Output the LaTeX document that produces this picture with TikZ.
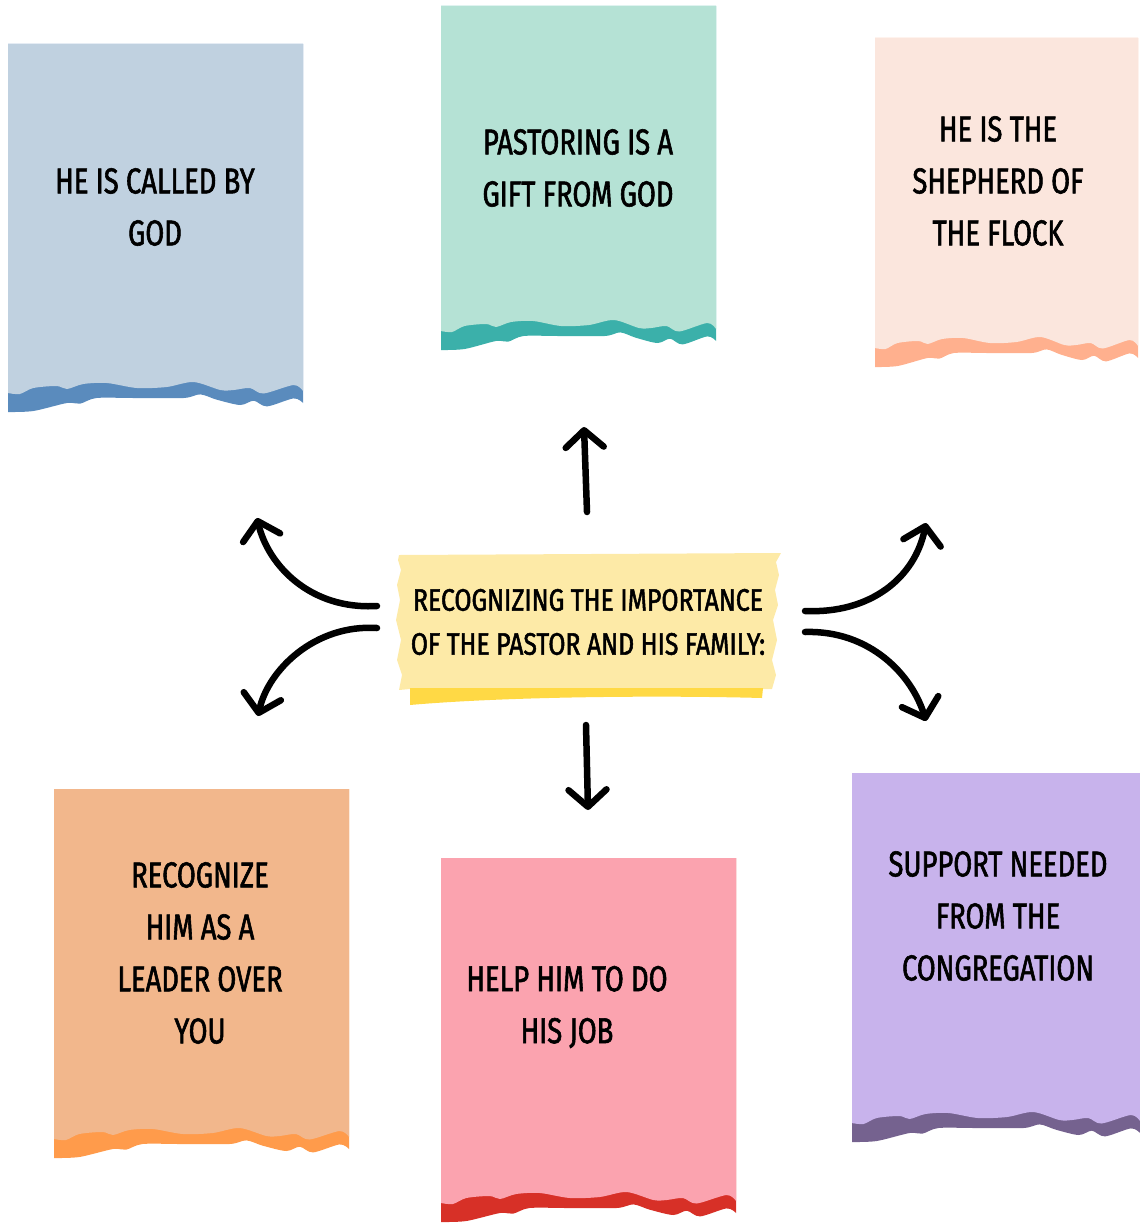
\documentclass[tikz,border=0pt]{standalone}
\usepackage{fontspec}
\newfontfamily\handfont{Fira Sans}[FakeStretch=0.76,FakeBold=1.6]
\newfontfamily\handfontc{Fira Sans}[FakeStretch=0.8,FakeBold=1.6]
\usetikzlibrary{arrows.meta}
\definecolor{blueL}{HTML}{C0D1E0}\definecolor{blueD}{HTML}{5A8BBD}
\definecolor{tealL}{HTML}{B5E2D5}\definecolor{tealD}{HTML}{3BB0AA}
\definecolor{peachL}{HTML}{FBE6DD}\definecolor{peachD}{HTML}{FFB08E}
\definecolor{oranL}{HTML}{F2B78C}\definecolor{oranD}{HTML}{FF9B4B}
\definecolor{pinkL}{HTML}{FBA3AF}\definecolor{pinkD}{HTML}{D73027}
\definecolor{purpL}{HTML}{C8B3EC}\definecolor{purpD}{HTML}{75628F}
\definecolor{yelL}{HTML}{FDEAA7}\definecolor{yelD}{HTML}{FFD945}
\newcommand{\cardbox}[6]{%
  \pgfmathsetmacro{\cw}{#3-#1}
  \fill[#6] (#1,#2) -- (#3,#2) -- plot[smooth] coordinates {
    ({#1+1*\cw},{#4-9}) ({#1+0.968*\cw},{#4-13.6}) ({#1+0.878*\cw},{#4-5.6})
    ({#1+0.833*\cw},{#4-11.3}) ({#1+0.787*\cw},{#4-7}) ({#1+0.708*\cw},{#4-12.3})
    ({#1+0.652*\cw},{#4-17.6}) ({#1+0.595*\cw},{#4-14}) ({#1+0.425*\cw},{#4-14})
    ({#1+0.3*\cw},{#4-14}) ({#1+0.244*\cw},{#4-8.3}) ({#1+0.2*\cw},{#4-9})
    ({#1+0.086*\cw},{#4-1}) ({#1},{#4})} -- cycle;
  \fill[#5] (#1,#2) -- (#3,#2) -- plot[smooth] coordinates {
    ({#1+1*\cw},{#4-21}) ({#1+0.968*\cw},{#4-27}) ({#1+0.866*\cw},{#4-18.5})
    ({#1+0.82*\cw},{#4-24}) ({#1+0.765*\cw},{#4-22}) ({#1+0.72*\cw},{#4-22})
    ({#1+0.629*\cw},{#4-30}) ({#1+0.538*\cw},{#4-25}) ({#1+0.437*\cw},{#4-24})
    ({#1+0.335*\cw},{#4-29}) ({#1+0.255*\cw},{#4-28}) ({#1+0.2*\cw},{#4-23})
    ({#1+0.165*\cw},{#4-26}) ({#1+0.086*\cw},{#4-24}) ({#1+0.04*\cw},{#4-18})
    ({#1},{#4-19})} -- cycle;
}
\tikzset{
  cardtext/.style={align=center, inner sep=0pt, font=\handfont\fontsize{36}{52}\selectfont},
  centertext/.style={align=center, inner sep=0pt, font=\handfontc\fontsize{31}{44}\selectfont},
  handarrow/.style={line width=6.5pt, line cap=round, -{Straight Barb[length=17pt,width=38pt,round]}},
}
\begin{document}
\begin{tikzpicture}[x=1pt,y=-1pt]
\useasboundingbox (0,0) rectangle (1140,1223);
% cards
\cardbox{8}{44}{303}{412}{blueL}{blueD}
\cardbox{441}{6}{716}{350}{tealL}{tealD}
\cardbox{875}{38}{1138}{367}{peachL}{peachD}
\cardbox{54}{789}{349}{1158}{oranL}{oranD}
\cardbox{441}{858}{736}{1222}{pinkL}{pinkD}
\cardbox{852}{773}{1140}{1142}{purpL}{purpD}
\node[cardtext] (c1) at (155,207) {HE IS CALLED BY\\GOD};
\node[cardtext] (c2) at (578,168) {PASTORING IS A\\GIFT FROM GOD};
\node[cardtext] (c3) at (998,181) {HE IS THE\\SHEPHERD OF\\THE FLOCK};
\node[cardtext] (c4) at (200,953) {RECOGNIZE\\HIM AS A\\LEADER OVER\\YOU};
\node[cardtext] (c5) at (567,1007) {HELP HIM TO DO\\HIS JOB};
\node[cardtext] (c6) at (998,916) {SUPPORT NEEDED\\FROM THE\\CONGREGATION};
% center tape
\fill[yelL] (399,555) -- (781,553) -- (776,562) -- (779,575) -- (775,590) -- (778,605)
  -- (773,620) -- (777,640) -- (772,660) -- (776,675) -- (772,689) -- (410,689)
  -- (399,690) -- (402,675) -- (397,660) -- (401,640) -- (396,620) -- (400,600)
  -- (397,585) -- (401,570) -- (398,560) -- cycle;
\fill[yelD] (410,688) -- (763,688) -- (762,698) .. controls (650,695) and (500,697) .. (410,705) -- cycle;
\node[centertext] (ctr) at (588,622) {RECOGNIZING THE IMPORTANCE\\OF THE PASTOR AND HIS FAMILY:};
% arrows
\coordinate (upS) at (587,512); \coordinate (upE) at (584,427);
\coordinate (dnS) at (586,725); \coordinate (dnE) at (588,810);
\coordinate (ulS) at (377,606); \coordinate (ulE) at (257,518);
\coordinate (llS) at (377,628); \coordinate (llE) at (258,716);
\coordinate (urS) at (805,611); \coordinate (urE) at (926,523);
\coordinate (lrS) at (805,632); \coordinate (lrE) at (926,721);
\draw[handarrow] (upS) -- (upE);
\draw[handarrow] (dnS) -- (dnE);
\draw[handarrow] (ulS) .. controls (310,610) and (268,565) .. (ulE);
\draw[handarrow] (llS) .. controls (315,624) and (268,670) .. (llE);
\draw[handarrow] (urS) .. controls (870,614) and (915,578) .. (urE);
\draw[handarrow] (lrS) .. controls (870,630) and (912,675) .. (lrE);
\end{tikzpicture}
\end{document}
